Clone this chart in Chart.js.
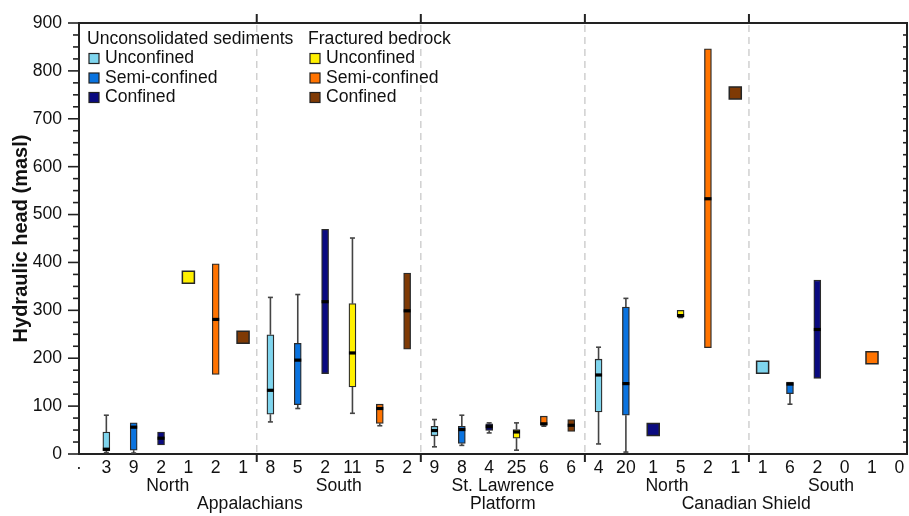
<!DOCTYPE html>
<html>
<head>
<meta charset="utf-8">
<script src="https://cdn.jsdelivr.net/npm/chart.js@4.4.1/dist/chart.umd.min.js"></script>
<style>
  html, body { margin: 0; padding: 0; background: #fff; }
</style>
</head>
<body>
<canvas id="grafico" width="909" height="516"></canvas>
<script>
// sample counts shown under each slot (slot 0 is the axis dot)
const slotLabels = ['·', '3', '9', '2', '1', '2', '1', '8', '5', '2', '11', '5', '2', '9', '8', '4', '25', '6', '6',
  '4', '20', '1', '5', '2', '1', '1', '6', '2', '0', '1', '0'];
const typeOrder = ['uu', 'us', 'uc', 'bu', 'bs', 'bc'];
const slotType = [null].concat(typeOrder, typeOrder, typeOrder, typeOrder, typeOrder);

const whiskLo = [null, 3, 2, null, null, null, null, 67, 95, null, 85, 59, null, 15, 18, 44, 8, 58, null,
  21, 4, null, 285, null, null, null, 104, null, null, null, null];
const q1 = [null, 7, 8, 19, null, 166, null, 83, 103, 168, 140, 64, 219, 38, 22, 49, 33, 60, 47,
  88, 81, null, 286, 222, null, null, 126, 158, null, null, null];
const median = [null, 10, 56, 33, null, 281, null, 133, 196, 318, 211, 95, 299, 49, 51, 57, 46, 63, 60,
  165, 147, null, 289, 533, null, null, 146, 260, null, null, null];
const q3 = [null, 46, 65, 46, null, 397, null, 249, 231, 469, 314, 104, 378, 58, 58, 63, 51, 79, 72,
  198, 307, null, 300, 846, null, null, 150, 363, null, null, null];
const whiskHi = [null, 81, 65, null, null, null, null, 327, 333, null, 451, 104, null, 72, 81, 65, 65, 79, null,
  223, 325, null, 300, null, null, null, 150, null, null, null, null];
// slots with a single observation
const singleValue = [null, null, null, null, 369, null, 244, null, null, null, null, null, null, null, null, null, null, null, null,
  null, null, 51, null, null, 754, 181, null, null, null, 201, null];

const regionLabels = ['North', 'South', 'St. Lawrence', 'North', 'South'];
const regionPos = [3.25, 9.5, 15.5, 21.5, 27.5];
const provinceLabels = ['Appalachians', 'Platform', 'Canadian Shield'];
const provincePos = [6.25, 15.5, 24.4];
const separators = [6.5, 12.5, 18.5, 24.5];
const yLabelTicks = [0, 100, 200, 300, 400, 500, 600, 700, 800, 900];

const typeColors = { uu: '#7fd5ee', us: '#0a73df', uc: '#0a0a80', bu: '#fff000', bs: '#ff7300', bc: '#7f3a05' };
const typeNames = { uu: 'Unconfined', us: 'Semi-confined', uc: 'Confined', bu: 'Unconfined', bs: 'Semi-confined', bc: 'Confined' };

const FONT = 'Liberation Sans, Arial, sans-serif';
const FS = 17.6;
const BOX_W = 7;

const boxSets = typeOrder.map(t => ({
  type: 'bar',
  label: typeNames[t],
  data: slotType.map((s, i) => s === t && q1[i] != null ? { x: i, y: [q1[i], q3[i]] } : null).filter(d => d),
  backgroundColor: typeColors[t],
  borderColor: '#2b2b2b',
  borderWidth: 1.3,
  borderSkipped: false,
  barThickness: BOX_W,
  grouped: false
}));

const singleIdx = singleValue.map((v, i) => v != null ? i : -1).filter(i => i >= 0);
const singleSet = {
  type: 'scatter',
  label: 'n = 1',
  data: singleIdx.map(i => ({ x: i, y: singleValue[i] })),
  pointStyle: 'rect',
  pointRadius: 8.5,
  pointBackgroundColor: singleIdx.map(i => typeColors[slotType[i]]),
  pointBorderColor: '#262626',
  pointBorderWidth: 1.5
};

const boxExtras = {
  id: 'boxExtras',
  beforeDatasetsDraw(chart) {
    const { ctx, chartArea: a, scales: { x, y } } = chart;
    ctx.save();
    // dashed region separators
    ctx.strokeStyle = '#d0d0d0';
    ctx.lineWidth = 1.5;
    ctx.setLineDash([7, 5]);
    separators.forEach(s => {
      const px = x.getPixelForValue(s);
      ctx.beginPath(); ctx.moveTo(px, a.top + 2); ctx.lineTo(px, a.bottom); ctx.stroke();
    });
    ctx.setLineDash([]);
    // whiskers
    ctx.strokeStyle = '#444';
    ctx.lineWidth = 1.6;
    slotLabels.forEach((_, i) => {
      if (q1[i] == null) return;
      const px = x.getPixelForValue(i);
      [[whiskLo[i], q1[i]], [whiskHi[i], q3[i]]].forEach(([w, q]) => {
        if (w == null || w === q) return;
        const wy = y.getPixelForValue(w), qy = y.getPixelForValue(q);
        ctx.beginPath(); ctx.moveTo(px, wy); ctx.lineTo(px, qy); ctx.stroke();
        ctx.beginPath(); ctx.moveTo(px - 2.5, wy); ctx.lineTo(px + 2.5, wy); ctx.stroke();
      });
    });
    ctx.restore();
  },
  afterDatasetsDraw(chart) {
    const { ctx, scales: { x, y } } = chart;
    ctx.save();
    ctx.fillStyle = '#000';
    slotLabels.forEach((_, i) => {
      if (median[i] == null) return;
      const px = x.getPixelForValue(i), py = y.getPixelForValue(median[i]);
      ctx.fillRect(px - BOX_W / 2, py - 1.6, BOX_W, 3.2);
    });
    ctx.restore();
  },
  afterDraw(chart) {
    const { ctx, chartArea: a, scales: { x, y } } = chart;
    ctx.save();
    ctx.strokeStyle = '#222';
    ctx.lineWidth = 2;
    // frame top and right
    ctx.beginPath(); ctx.moveTo(a.left, a.top); ctx.lineTo(a.right, a.top); ctx.lineTo(a.right, a.bottom); ctx.stroke();
    // left ticks (outside) and right ticks (inside)
    ctx.lineWidth = 1.6;
    for (let v = 0; v <= 900; v += 25) {
      const py = y.getPixelForValue(v);
      const len = v % 100 === 0 ? 11 : 6;
      ctx.beginPath(); ctx.moveTo(a.left - len, py); ctx.lineTo(a.left, py); ctx.stroke();
      ctx.beginPath(); ctx.moveTo(a.right - 4, py); ctx.lineTo(a.right, py); ctx.stroke();
    }
    // separator ticks top and bottom
    ctx.lineWidth = 2;
    separators.forEach(s => {
      const px = x.getPixelForValue(s);
      ctx.beginPath(); ctx.moveTo(px, a.top - 9); ctx.lineTo(px, a.top); ctx.stroke();
      ctx.beginPath(); ctx.moveTo(px, a.bottom); ctx.lineTo(px, a.bottom + 8); ctx.stroke();
    });
    // lower label rows
    ctx.fillStyle = '#111';
    ctx.font = FS + 'px ' + FONT;
    ctx.textAlign = 'center';
    ctx.textBaseline = 'middle';
    regionLabels.forEach((t, i) => ctx.fillText(t, x.getPixelForValue(regionPos[i]), 486));
    provinceLabels.forEach((t, i) => ctx.fillText(t, x.getPixelForValue(provincePos[i]), 504));
    // legend in two groups
    ctx.textAlign = 'left';
    const groups = [{ title: 'Unconsolidated sediments', x0: 87, types: ['uu', 'us', 'uc'] },
                    { title: 'Fractured bedrock', x0: 308, types: ['bu', 'bs', 'bc'] }];
    groups.forEach(g => {
      ctx.fillStyle = '#111';
      ctx.fillText(g.title, g.x0, 39);
      g.types.forEach((t, k) => {
        const cy = 58.5 + k * 19.5;
        ctx.fillStyle = typeColors[t];
        ctx.fillRect(g.x0 + 2, cy - 5, 10, 10);
        ctx.lineWidth = 1.2;
        ctx.strokeStyle = '#222';
        ctx.strokeRect(g.x0 + 2, cy - 5, 10, 10);
        ctx.fillStyle = '#111';
        ctx.fillText(typeNames[t], g.x0 + 18, cy);
      });
    });
    ctx.restore();
  }
};

const ctx = document.getElementById('grafico').getContext('2d');
const grafico = new Chart(ctx, {
  type: 'bar',
  data: { datasets: boxSets.concat([singleSet]) },
  options: {
    responsive: false,
    animation: false,
    layout: { autoPadding: false, padding: { left: 0, right: 2, top: 23, bottom: 0 } },
    plugins: { legend: { display: false }, tooltip: { enabled: false } },
    scales: {
      x: {
        type: 'linear',
        offset: false,
        min: 0,
        max: 30.28,
        afterBuildTicks: s => { s.ticks = slotLabels.map((_, i) => ({ value: i })); },
        afterFit: s => { s.height = 62; s.paddingLeft = 0; s.paddingRight = 0; },
        ticks: {
          autoSkip: false, maxRotation: 0, padding: 4, color: '#111',
          font: { family: FONT, size: FS },
          callback: v => slotLabels[v]
        },
        grid: { display: true, drawOnChartArea: false, drawTicks: false, offset: false },
        border: { display: true, color: '#222', width: 2 }
      },
      y: {
        min: 0,
        max: 900,
        afterBuildTicks: s => { s.ticks = yLabelTicks.map(v => ({ value: v })); },
        afterFit: s => { s.width = 79; s.paddingTop = 0; s.paddingBottom = 0; },
        ticks: { padding: 17, color: '#111', font: { family: FONT, size: FS } },
        grid: { display: true, drawOnChartArea: false, drawTicks: false },
        border: { display: true, color: '#222', width: 2 },
        title: {
          display: true, text: 'Hydraulic head (masl)', color: '#111',
          font: { family: FONT, size: 20, weight: 'bold' },
          padding: { top: 9, bottom: 0 }
        }
      }
    }
  },
  plugins: [boxExtras]
});
</script>
</body>
</html>
